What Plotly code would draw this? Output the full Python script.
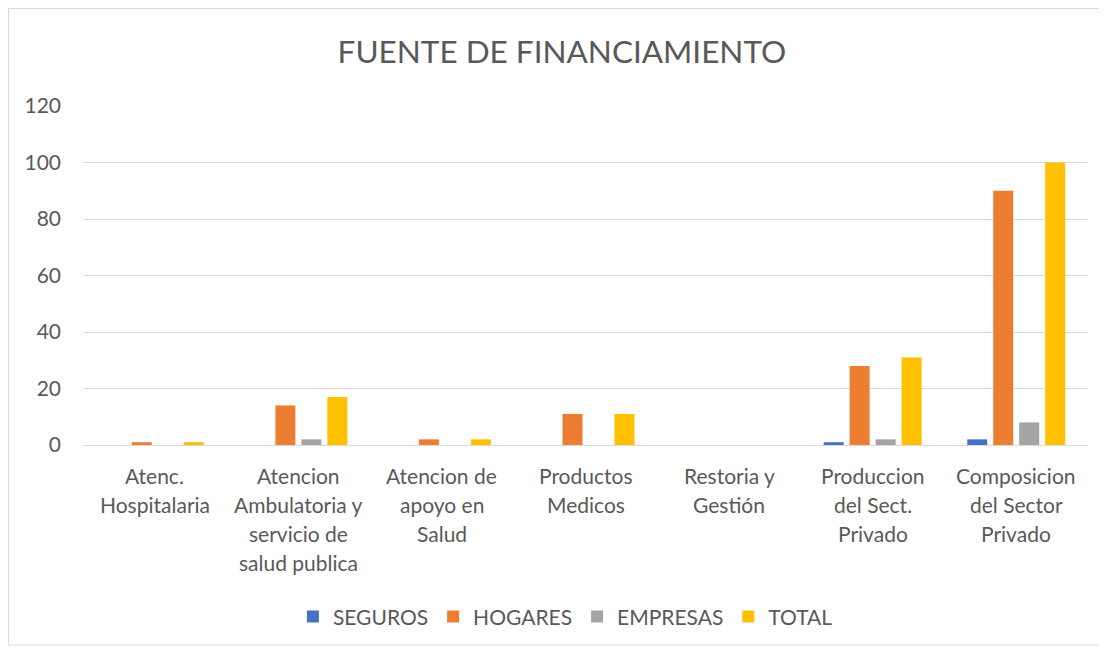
import plotly.graph_objects as go

categories = ["Atenc.<br>Hospitalaria",
              "Atencion<br>Ambulatoria y<br>servicio de<br>salud publica",
              "Atencion de<br>apoyo en<br>Salud",
              "Productos<br>Medicos",
              "Restoria y<br>Gestión",
              "Produccion<br>del Sect.<br>Privado",
              "Composicion<br>del Sector<br>Privado"]
seguros = [0, 0, 0, 0, 0, 1, 2]
hogares = [1, 14, 2, 11, 0, 28, 90]
empresas = [0, 2, 0, 0, 0, 2, 8]
total = [1, 17, 2, 11, 0, 31, 100]

series = [("SEGUROS", seguros, "#4472C4"),
          ("HOGARES", hogares, "#ED7D31"),
          ("EMPRESAS", empresas, "#A5A5A5"),
          ("TOTAL", total, "#FFC000")]

FONT = "Lato"
GREY = "#595959"
fig = go.Figure()
for name, vals, col in series:
    fig.add_trace(go.Bar(x=categories, y=vals, name=name, marker_color=col,
                         marker_line_width=0))

fig.update_layout(
    width=1099, height=641,
    paper_bgcolor="white", plot_bgcolor="white",
    margin=dict(l=75, r=19, t=98, b=204),
    barmode="group", bargap=0.276, bargroupgap=0.23,
    font=dict(family=FONT, color=GREY, size=20),
    title=dict(text="FUENTE DE FINANCIAMIENTO", x=0.504, xanchor="center",
               y=0.932, yanchor="middle",
               font=dict(family=FONT, size=31.5, color=GREY)),
    legend=dict(orientation="h", x=0.48, xanchor="center", y=-0.507, yanchor="middle",
                font=dict(family=FONT, size=21, color=GREY),
                itemwidth=30, traceorder="normal"),
    showlegend=True,
)
fig.update_yaxes(range=[0, 120], dtick=20, showgrid=True, gridcolor="#D9D9D9",
                 gridwidth=1, zeroline=True, zerolinecolor="#D9D9D9",
                 zerolinewidth=1, showline=False, ticks="", ticklabelstandoff=21,
                 tickfont=dict(size=21, color=GREY, family=FONT))
fig.update_xaxes(showline=False, ticks="", showticklabels=False)

for cat in categories:
    for i, line in enumerate(cat.split("<br>")):
        fig.add_annotation(x=cat, y=0, xref="x", yref="paper", text=line,
                           showarrow=False, yanchor="middle", xanchor="center",
                           yshift=-(30 + 29.3 * i),
                           font=dict(family=FONT, size=21, color=GREY))

fig.add_shape(type="rect", xref="paper", yref="paper",
              x0=-0.0741, x1=1.0114, y0=-0.59, y1=1.2876,
              line=dict(color="#D9D9D9", width=1), fillcolor="rgba(0,0,0,0)",
              layer="below")
fig.write_html("out.html")
